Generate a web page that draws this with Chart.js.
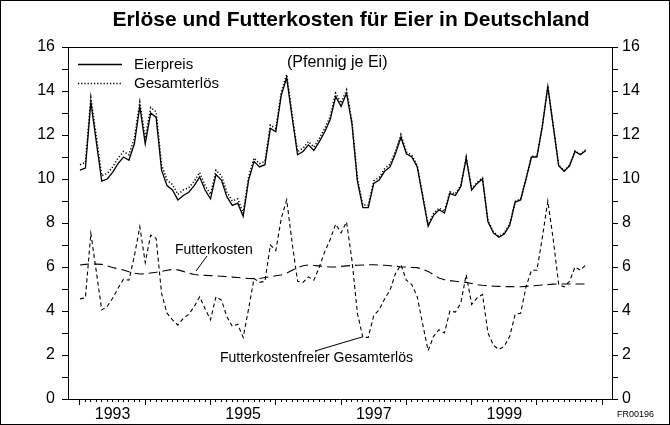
<!DOCTYPE html>
<html>
<head>
<meta charset="utf-8">
<title>Erlöse und Futterkosten für Eier in Deutschland</title>
<script src="https://cdn.jsdelivr.net/npm/chart.js@4.4.1/dist/chart.umd.min.js"></script>
<style>
  html, body { margin: 0; padding: 0; background: #fff; }
  canvas { display: block; }
</style>
</head>
<body>
<canvas id="eggChart" width="670" height="425"></canvas>
<script>
// Monatswerte ab Januar 1993, Pfennig je Ei
const startYear = 1993;
const yearLabels = ['1993', '1995', '1997', '1999'];
const chartTitle = 'Erlöse und Futterkosten für Eier in Deutschland';

const eierpreis = [
    10.4, 10.5, 13.5, 11.7, 9.9, 10.0, 10.3, 10.7, 11.0, 10.85,
    11.6, 13.3, 11.6, 13.0, 12.8, 10.4, 9.7, 9.5, 9.05, 9.25,
    9.4, 9.7, 10.1, 9.5, 9.1, 10.2, 9.95, 9.2, 8.8, 8.9,
    8.3, 9.95, 10.8, 10.55, 10.65, 12.3, 12.15, 13.8, 14.6, 12.8,
    11.1, 11.25, 11.55, 11.3, 11.7, 12.15, 12.7, 13.75, 13.3, 13.9,
    12.5, 9.9, 8.7, 8.7, 9.8, 9.95, 10.35, 10.55, 11.15, 11.9,
    11.15, 11.0, 10.55, 9.2, 7.85, 8.35, 8.6, 8.45, 9.35, 9.25,
    9.65, 10.95, 9.5, 9.8, 10.0, 8.05, 7.55, 7.35, 7.5, 7.9,
    8.95, 9.05, 10.0, 11.0, 11.0, 12.4, 14.2, 12.4, 10.6, 10.35,
    10.6, 11.25, 11.1, 11.3
];

const gesamterloes = [
    10.65, 10.75, 13.7, 11.95, 10.15, 10.25, 10.55, 10.95, 11.25, 11.1,
    11.85, 13.5, 11.85, 13.25, 13.05, 10.65, 9.95, 9.75, 9.3, 9.5,
    9.6, 9.9, 10.3, 9.7, 9.3, 10.4, 10.15, 9.4, 9.0, 9.1,
    8.45, 10.1, 10.95, 10.7, 10.8, 12.45, 12.3, 13.95, 14.75, 12.95,
    11.25, 11.4, 11.7, 11.45, 11.85, 12.3, 12.85, 13.9, 13.45, 14.05,
    12.62, 10.02, 8.82, 8.82, 9.92, 10.07, 10.47, 10.67, 11.27, 12.02,
    11.23, 11.08, 10.63, 9.28, 7.93, 8.43, 8.68, 8.53, 9.42, 9.32,
    9.7, 11.0, 9.55, 9.85, 10.05, 8.1, 7.6, 7.4, 7.55, 7.95,
    8.98, 9.08, 10.03, 11.03, 11.03, 12.43, 14.23, 12.43, 10.63, 10.38,
    10.63, 11.28, 11.13, 11.33
];

const futterkosten = [
    6.09, 6.12, 6.14, 6.13, 6.12, 6.05, 5.98, 5.92, 5.86, 5.78,
    5.72, 5.68, 5.69, 5.73, 5.76, 5.8, 5.85, 5.89, 5.87, 5.8,
    5.72, 5.66, 5.63, 5.62, 5.61, 5.6, 5.58, 5.56, 5.54, 5.52,
    5.5, 5.48, 5.47, 5.48, 5.52, 5.56, 5.6, 5.64, 5.72, 5.85,
    5.97, 6.06, 6.09, 6.07, 6.05, 6.02, 6.0, 6.0, 6.03, 6.05,
    6.07, 6.08, 6.09, 6.1, 6.1, 6.09, 6.08, 6.06, 6.04, 6.0,
    6.0, 5.98, 5.97, 5.9, 5.8, 5.65, 5.5, 5.42, 5.38, 5.35,
    5.32, 5.3, 5.25, 5.2, 5.17, 5.15, 5.13, 5.12, 5.11, 5.11,
    5.1, 5.1, 5.12, 5.14, 5.16, 5.18, 5.2, 5.22, 5.23, 5.23,
    5.23, 5.23, 5.23, 5.23
];

const futterkostenfrei = [
    4.55, 4.6, 7.53, 5.8, 4.05, 4.2, 4.58, 5.03, 5.45, 5.4,
    6.5, 7.83, 6.2, 7.45, 7.3, 4.8, 3.9, 3.6, 3.36, 3.67,
    3.85, 4.2, 4.65, 4.1, 3.6, 4.65, 4.5, 3.75, 3.3, 3.4,
    2.8, 4.1, 5.48, 5.3, 5.35, 7.0, 6.75, 8.2, 9.05, 7.1,
    5.35, 5.3, 5.55, 5.4, 6.0, 6.7, 7.25, 7.95, 7.55, 8.05,
    6.3, 3.9, 2.8, 2.8, 3.8, 4.05, 4.55, 4.95, 5.7, 6.1,
    5.4, 5.2, 4.65, 3.4, 2.2, 2.85, 3.15, 3.0, 4.0, 3.95,
    4.35, 5.65, 4.3, 4.6, 4.75, 3.0, 2.45, 2.25, 2.4, 2.85,
    3.85, 3.9, 5.1, 5.85, 5.85, 7.35, 9.0, 7.25, 5.2, 5.1,
    5.35, 6.0, 5.85, 6.1
];

const FONT = "'Liberation Sans', Arial, Helvetica, sans-serif";
Chart.defaults.font.family = FONT;
Chart.defaults.color = '#000';

function toPoints(values) {
    return values.map((v, i) => ({ x: i, y: v }));
}

// Rahmen, Titel, obere Kante der Grafik, Legende und Beschriftungen
const decorations = {
    id: 'decorations',
    beforeDraw(chart) {
        const ctx = chart.ctx;
        ctx.save();
        ctx.fillStyle = '#fff';
        ctx.fillRect(0, 0, chart.width, chart.height);
        ctx.restore();
    },
    afterDraw(chart) {
        const { ctx, chartArea: a } = chart;
        ctx.save();
        ctx.strokeStyle = '#000';
        ctx.lineWidth = 1;
        ctx.beginPath();
        ctx.moveTo(a.left, Math.round(a.top) + 0.5);
        ctx.lineTo(a.right, Math.round(a.top) + 0.5);
        ctx.stroke();
        ctx.strokeRect(0.5, 0.5, chart.width - 1, chart.height - 1);

        ctx.fillStyle = '#000';
        ctx.textBaseline = 'middle';
        ctx.textAlign = 'center';
        ctx.font = 'bold 21px ' + FONT;
        ctx.fillText(chartTitle, a.left + 283, 20);

        // Legende
        const lx = a.left + 10;
        ctx.lineWidth = 1.3;
        ctx.setLineDash([]);
        ctx.beginPath();
        ctx.moveTo(lx, a.top + 17.5);
        ctx.lineTo(lx + 44, a.top + 17.5);
        ctx.stroke();
        ctx.lineWidth = 1.5;
        ctx.setLineDash([1.2, 2]);
        ctx.beginPath();
        ctx.moveTo(lx, a.top + 36.5);
        ctx.lineTo(lx + 44, a.top + 36.5);
        ctx.stroke();
        ctx.setLineDash([]);

        ctx.textAlign = 'left';
        ctx.font = '15px ' + FONT;
        ctx.fillText('Eierpreis', lx + 56, a.top + 18);
        ctx.fillText('Gesamterlös', lx + 56, a.top + 37);
        ctx.font = '16px ' + FONT;
        ctx.fillText('(Pfennig je Ei)', a.left + 219, a.top + 16);

        // Beschriftung der Futterkosten-Linien
        ctx.font = '14px ' + FONT;
        ctx.fillText('Futterkosten', a.left + 107, a.top + 203);
        ctx.fillText('Futterkostenfreier Gesamterlös', a.left + 152, a.top + 311);
        ctx.lineWidth = 1;
        ctx.beginPath();
        ctx.moveTo(a.left + 139, a.top + 209);
        ctx.lineTo(a.left + 128, a.top + 224);
        ctx.moveTo(a.left + 247, a.top + 304);
        ctx.lineTo(a.left + 294, a.top + 290);
        ctx.stroke();

        ctx.font = '9px ' + FONT;
        ctx.fillText('FR00196', a.right + 5, chart.height - 10);
        ctx.restore();
    }
};

const monthTicks = [];
for (let m = 0; m <= 96; m++) monthTicks.push({ value: m });
const halfYearTicks = [];
for (let m = 0; m <= 96; m += 6) halfYearTicks.push({ value: m });

const canvas = document.getElementById('eggChart');
const ctx = canvas.getContext('2d');

canvas.chart = new Chart(ctx, {
    type: 'line',
    data: {
        datasets: [{
            label: 'Eierpreis',
            data: toPoints(eierpreis),
            borderColor: '#000',
            borderWidth: 1.3,
            pointRadius: 0,
            tension: 0
        }, {
            label: 'Gesamterlös',
            data: toPoints(gesamterloes),
            borderColor: '#000',
            borderWidth: 1.5,
            borderDash: [1.2, 2],
            pointRadius: 0,
            tension: 0
        }, {
            label: 'Futterkosten',
            data: toPoints(futterkosten),
            borderColor: '#000',
            borderWidth: 1.1,
            borderDash: [9, 5],
            pointRadius: 0,
            tension: 0
        }, {
            label: 'Futterkostenfreier Gesamterlös',
            data: toPoints(futterkostenfrei),
            borderColor: '#000',
            borderWidth: 1.1,
            borderDash: [4, 3],
            pointRadius: 0,
            tension: 0
        }]
    },
    options: {
        responsive: false,
        animation: false,
        devicePixelRatio: 1,
        layout: { padding: { top: 47 } },
        plugins: {
            legend: { display: false },
            tooltip: { enabled: false },
            title: { display: false }
        },
        scales: {
            x: {
                type: 'linear',
                position: 'bottom',
                min: -2.2,
                max: 97.8,
                afterBuildTicks: s => { s.ticks = monthTicks.slice(); },
                afterFit: s => { s.height = 0; },
                ticks: { display: false },
                grid: { drawOnChartArea: false, tickLength: 3, color: '#000' },
                border: { display: true, color: '#000', width: 1 }
            },
            x2: {
                type: 'linear',
                position: 'bottom',
                weight: 1,
                min: -2.2,
                max: 97.8,
                afterBuildTicks: s => { s.ticks = halfYearTicks.slice(); },
                afterFit: s => { s.height = 26; },
                ticks: {
                    autoSkip: false,
                    maxRotation: 0,
                    padding: 0,
                    font: { size: 16 },
                    callback: v => {
                        if (v % 12 !== 6) return '';
                        const yr = String(startYear + (v - 6) / 12);
                        return yearLabels.includes(yr) ? yr : '';
                    }
                },
                grid: {
                    drawOnChartArea: false,
                    tickLength: 6,
                    tickColor: c => (c.tick && c.tick.value % 12 === 0) ? '#000' : 'rgba(0,0,0,0)'
                },
                border: { display: false }
            },
            y: {
                position: 'left',
                min: 0,
                max: 16,
                afterFit: s => { s.width = 68; },
                ticks: {
                    stepSize: 1,
                    autoSkip: false,
                    padding: 7,
                    font: { size: 16 },
                    callback: v => (v % 2 === 0 ? v : '')
                },
                grid: { drawOnChartArea: false, tickLength: 6, color: '#000' },
                border: { display: true, color: '#000', width: 1 }
            },
            y2: {
                position: 'right',
                min: 0,
                max: 16,
                afterFit: s => { s.width = 58; },
                ticks: {
                    stepSize: 1,
                    autoSkip: false,
                    padding: 4,
                    font: { size: 16 },
                    callback: v => (v % 2 === 0 ? v : '')
                },
                grid: { drawOnChartArea: false, tickLength: 6, color: '#000' },
                border: { display: true, color: '#000', width: 1 }
            }
        }
    },
    plugins: [decorations]
});
</script>
</body>
</html>
